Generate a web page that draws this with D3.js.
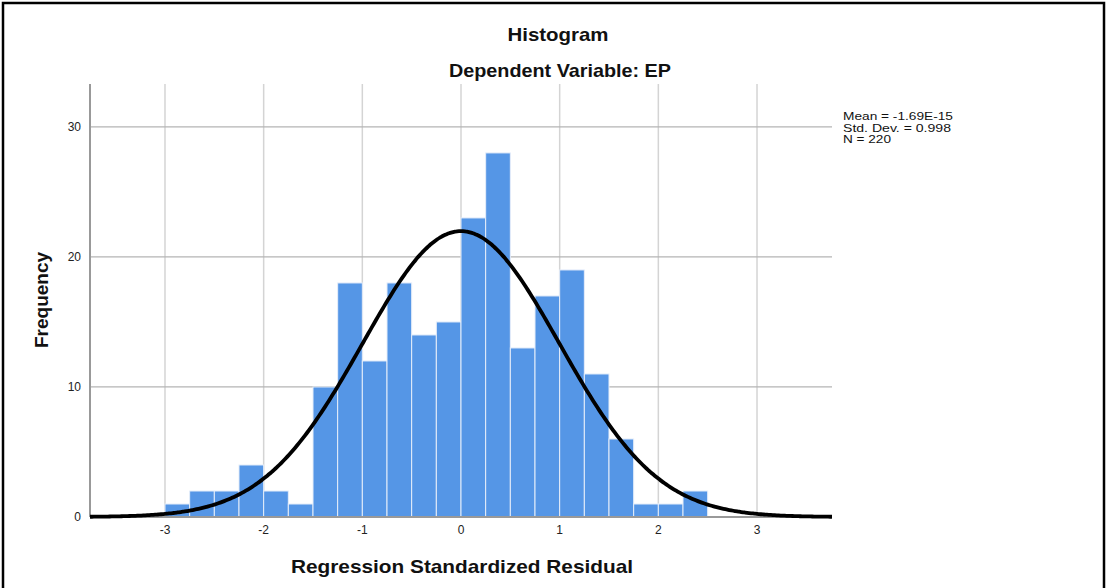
<!DOCTYPE html>
<html>
<head>
<meta charset="utf-8">
<script src="https://cdn.jsdelivr.net/npm/d3@7"></script>
<style>
  body { margin: 0; background: #fff; }
  svg { font-family: "Liberation Sans", Arial, sans-serif; }
</style>
</head>
<body>
<svg id="chart" width="1107" height="588"></svg>
<script>
// bin lower edges (width 0.25) and counts
const binStarts = [-3.0, -2.75, -2.5, -2.25, -2.0, -1.75, -1.5, -1.25, -1.0, -0.75, -0.5, -0.25,
                   0.0, 0.25, 0.5, 0.75, 1.0, 1.25, 1.5, 1.75, 2.0, 2.25];
const binCounts = [1, 2, 2, 4, 2, 1, 10, 18, 12, 18, 14, 15, 23, 28, 13, 17, 19, 11, 6, 1, 1, 2];
const binWidth = 0.25;
const xTicks = [-3, -2, -1, 0, 1, 2, 3];
const yTicks = [0, 10, 20, 30];
const statLines = ["Mean = -1.69E-15", "Std. Dev. = 0.998", "N = 220"];
const meanVal = -1.69e-15, sdVal = 0.998, nVal = 220;

const svg = d3.select("#chart");
const W = 1107, H = 588;
// plot box edges
const pLeft = 90, pRight = 832, pTop = 84, pBottom = 517;

// outer frame
svg.append("rect").attr("x", 3).attr("y", 3).attr("width", W - 6).attr("height", H)
  .attr("fill", "none").attr("stroke", "#000").attr("stroke-width", 2.5);

const x = d3.scaleLinear().domain([-3.76, 3.76]).range([pLeft, pRight]);
const y = d3.scaleLinear().domain([0, 33.3]).range([pBottom, pTop]);

// vertical grid lines
svg.append("g").selectAll("line").data(xTicks).join("line")
  .attr("x1", d => x(d)).attr("x2", d => x(d))
  .attr("y1", pTop).attr("y2", pBottom)
  .attr("stroke", "#d4d4d4").attr("stroke-width", 1.5);

// horizontal grid lines
svg.append("g").selectAll("line").data(yTicks.filter(d => d > 0)).join("line")
  .attr("x1", pLeft).attr("x2", pRight)
  .attr("y1", d => y(d)).attr("y2", d => y(d))
  .attr("stroke", "#b4b4b4").attr("stroke-width", 1.2);

// bars
svg.append("g").selectAll("rect").data(binStarts).join("rect")
  .attr("x", d => x(d))
  .attr("width", x(binWidth) - x(0))
  .attr("y", (d, i) => y(binCounts[i]))
  .attr("height", (d, i) => y(0) - y(binCounts[i]))
  .attr("fill", "#5596e6")
  .attr("stroke", "#e6eefa").attr("stroke-width", 1);

// axes lines
svg.append("line").attr("x1", pLeft).attr("x2", pLeft).attr("y1", pTop).attr("y2", pBottom)
  .attr("stroke", "#999").attr("stroke-width", 2);
svg.append("line").attr("x1", pLeft).attr("x2", pRight).attr("y1", pBottom).attr("y2", pBottom)
  .attr("stroke", "#999").attr("stroke-width", 2);

// normal curve from the stated mean, sd and N
const curvePts = d3.range(-3.76, 3.761, 0.02);
const dens = v => nVal * binWidth / (sdVal * Math.sqrt(2 * Math.PI)) *
  Math.exp(-0.5 * Math.pow((v - meanVal) / sdVal, 2));
svg.append("path").datum(curvePts)
  .attr("d", d3.line().x(d => x(d)).y(d => y(dens(d))).curve(d3.curveBasis))
  .attr("fill", "none").attr("stroke", "#000").attr("stroke-width", 3.8);

// tick labels
svg.append("g").selectAll("text").data(xTicks).join("text")
  .attr("x", d => x(d)).attr("y", 534)
  .attr("text-anchor", "middle").attr("font-size", 12).attr("fill", "#222")
  .text(d => d);
svg.append("g").selectAll("text").data(yTicks).join("text")
  .attr("x", 81).attr("y", d => y(d) + 4)
  .attr("text-anchor", "end").attr("font-size", 12).attr("fill", "#222")
  .text(d => d);

// titles
function boldText(tx, ty, str, len, rot) {
  return svg.append("text")
    .attr("transform", `translate(${tx},${ty})` + (rot ? " rotate(-90)" : ""))
    .attr("text-anchor", "middle")
    .attr("font-size", 19).attr("font-weight", "bold").attr("fill", "#111")
    .attr("textLength", len).attr("lengthAdjust", "spacingAndGlyphs")
    .text(str);
}
boldText(558, 41, "Histogram", 101);
boldText(560, 77, "Dependent Variable: EP", 222);
boldText(462, 573, "Regression Standardized Residual", 342);
boldText(48, 300, "Frequency", 96, true);

// stats box
const statLen = [110, 108, 48];
svg.append("g").selectAll("text").data(statLines).join("text")
  .attr("x", 843).attr("y", (d, i) => 120 + i * 11.5)
  .attr("font-size", 11).attr("fill", "#111")
  .attr("textLength", (d, i) => statLen[i]).attr("lengthAdjust", "spacingAndGlyphs")
  .text(d => d);
</script>
</body>
</html>
